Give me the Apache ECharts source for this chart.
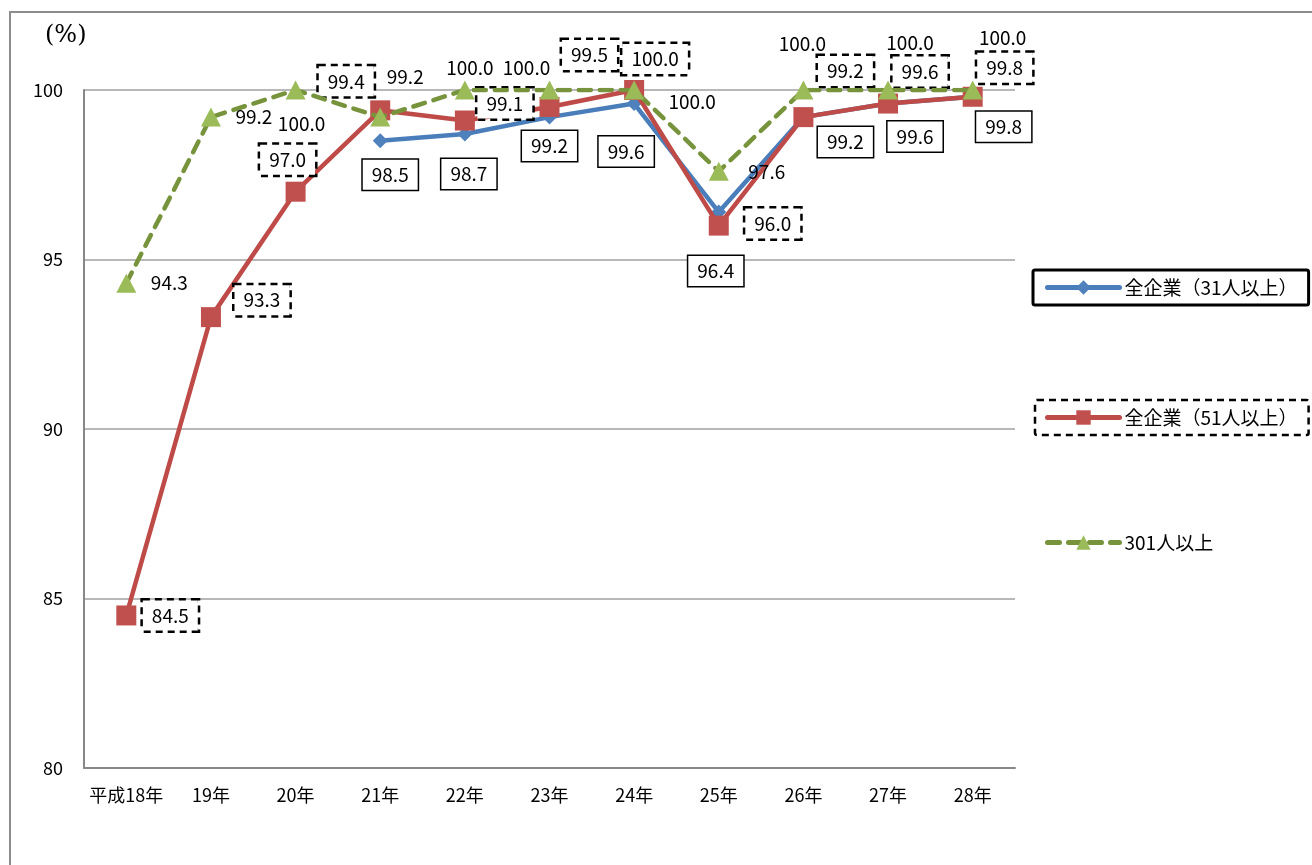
<!DOCTYPE html>
<html><head><meta charset="utf-8">
<script src="https://cdn.jsdelivr.net/npm/echarts@6/dist/echarts.min.js"></script>
<style>html,body{margin:0;padding:0;background:#fff}#c{width:1312px;height:865px}</style>
</head><body><div id="c"></div>
<script>
const categories = ['平成18年','19年','20年','21年','22年','23年','24年','25年','26年','27年','28年'];
const all31 = [null, null, null, 98.5, 98.7, 99.2, 99.6, 96.4, 99.2, 99.6, 99.8];
const all51 = [84.5, 93.3, 97.0, 99.4, 99.1, 99.5, 100.0, 96.0, 99.2, 99.6, 99.8];
const over301 = [94.3, 99.2, 100.0, 99.2, 100.0, 100.0, 100.0, 97.6, 100.0, 100.0, 100.0];
const yTicks = [80, 85, 90, 95, 100];
const names = ['全企業（31人以上）', '全企業（51人以上）', '301人以上'];

// label placement (layout only)
const offs31 = [[0,0],[0,0],[0,0],[10,34],[4,40],[0,29],[-8,48],[-3,59],[42,25],[27,33],[31,30]];
const offs51 = [[44,0],[51,-17],[-8,-32],[-34,-29],[40,-17],[40,-52],[21,-31],[54,-2],[42,-46],[32,-32],[32,-29]];
const offs301 = [[43,0],[43,0],[6,34],[25,-40],[5,-22],[-23,-22],[58,12],[48,0],[-1,-46],[22,-47],[30,-52]];

const FONT = '"Noto Sans CJK JP", "Noto Sans", sans-serif';
const fmt = p => (p.value == null ? '' : Number(p.value).toFixed(1));

function mk(vals, offs) {
  return vals.map((v, i) => ({ value: v == null ? '-' : v, label: { offset: offs[i] } }));
}

const chart = echarts.init(document.getElementById('c'), null, { renderer: 'canvas' });
const legendBase = {
  orient: 'vertical', itemWidth: 72, itemHeight: 18, itemGap: 5,
  textStyle: { fontFamily: FONT, fontSize: 19, color: '#000' },
  lineStyle: { width: 5, cap: 'round' },
  selectedMode: false
};
chart.setOption({
  animation: false,
  backgroundColor: '#fff',
  graphic: [
    { type: 'polyline', shape: { points: [[10, 865], [10, 12], [1312, 12]] }, style: { stroke: '#8c8c8c', lineWidth: 2, fill: null }, silent: true },
    { type: 'text', left: 45, top: 24, style: { text: '(%)', font: '24px "DejaVu Serif", serif', fill: '#000' } }
  ],
  grid: { left: 84, right: 297, top: 90, bottom: 97, containLabel: false },
  legend: [
    Object.assign({}, legendBase, { data: [names[0]], left: 1033, top: 270, padding: [8, 11, 8, 12], borderColor: '#000', borderWidth: 3, borderRadius: 2 }),
    Object.assign({}, legendBase, { data: [names[1]], left: 1035, top: 400, padding: [8, 11, 8, 10], borderColor: '#000', borderWidth: 2.5, borderType: [7, 5], borderRadius: 2 }),
    Object.assign({}, legendBase, { data: [names[2]], left: 1035, top: 525, padding: [8, 11, 8, 10] })
  ],
  xAxis: {
    type: 'category', data: categories, boundaryGap: true,
    axisLine: { lineStyle: { color: '#888', width: 2 } },
    axisTick: { show: false },
    axisLabel: { interval: 0, fontFamily: FONT, fontSize: 18, color: '#000', margin: 18 }
  },
  yAxis: {
    type: 'value', min: yTicks[0], max: yTicks[yTicks.length - 1], interval: 5,
    axisLine: { show: true, lineStyle: { color: '#888', width: 2 } },
    axisTick: { show: false },
    axisLabel: { fontFamily: FONT, fontSize: 18, color: '#000', margin: 21 },
    splitLine: { lineStyle: { color: '#a0a0a0', width: 1.5 } }
  },
  series: [
    {
      name: names[0], type: 'line', data: mk(all31, offs31),
      symbol: 'diamond', symbolSize: 15, showAllSymbol: true,
      lineStyle: { color: '#4A7EBB', width: 4.5 },
      itemStyle: { color: '#4F81BD' },
      label: { show: true, position: 'inside', formatter: fmt, fontFamily: FONT, fontSize: 19, color: '#000',
        backgroundColor: '#fff', borderColor: '#000', borderWidth: 1.5, padding: [6, 9, 5, 9] },
      z: 2
    },
    {
      name: names[1], type: 'line', data: mk(all51, offs51),
      symbol: 'rect', symbolSize: 20,
      lineStyle: { color: '#BE4B48', width: 4.5 },
      itemStyle: { color: '#C0504D' },
      label: { show: true, position: 'inside', formatter: fmt, fontFamily: FONT, fontSize: 19, color: '#000',
        backgroundColor: '#fff', borderColor: '#000', borderWidth: 2.5, borderType: [7, 5], padding: [6, 9, 5, 9] },
      z: 3
    },
    {
      name: names[2], type: 'line', data: mk(over301, offs301),
      symbol: 'triangle', symbolSize: [20, 19],
      lineStyle: { color: '#77933C', width: 4.5, type: [12, 9], cap: 'round' },
      itemStyle: { color: '#9BBB59' },
      label: { show: true, position: 'inside', formatter: fmt, fontFamily: FONT, fontSize: 19, color: '#000' },
      z: 4
    }
  ]
});
</script></body></html>
